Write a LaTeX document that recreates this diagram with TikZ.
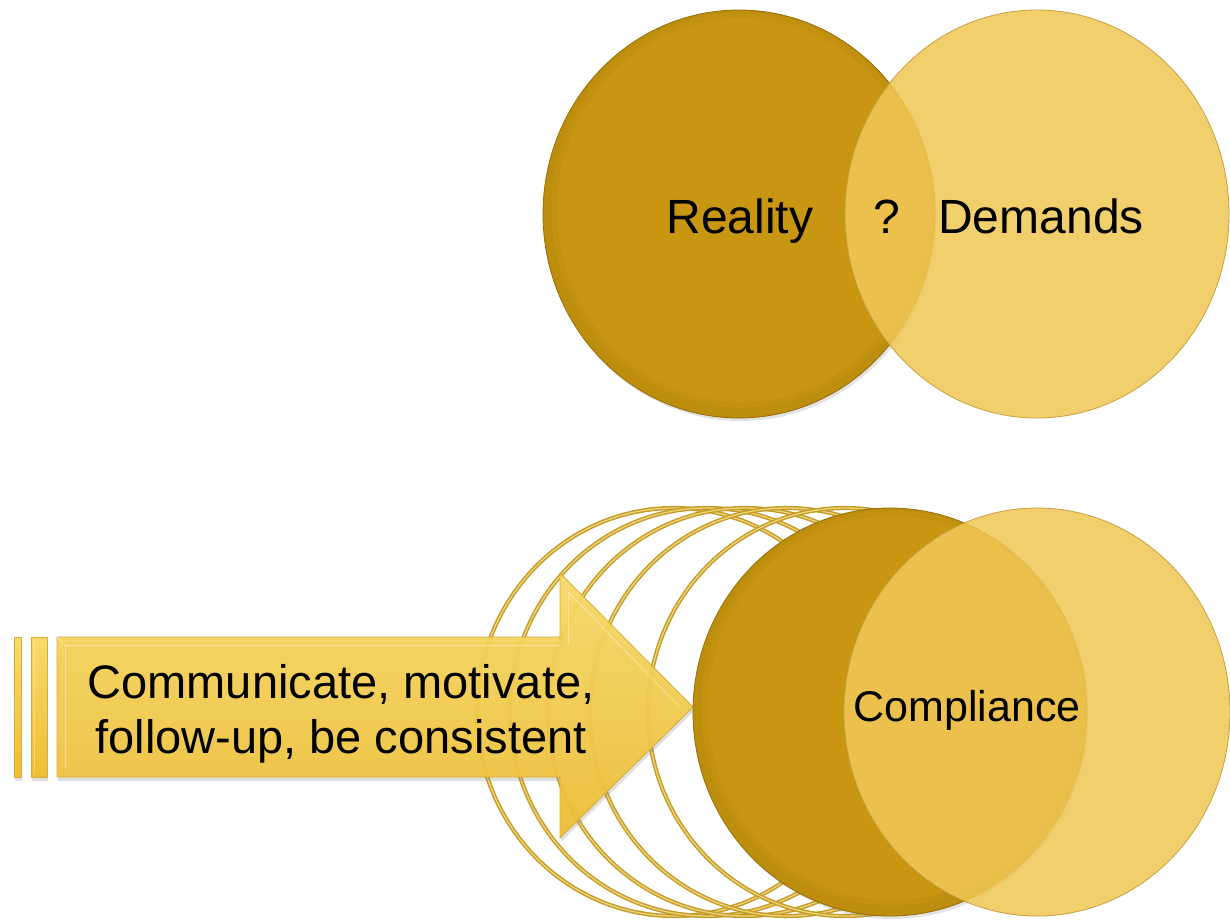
\documentclass[tikz,border=0pt]{standalone}
\usepackage{fontspec}
\setmainfont{Liberation Sans}
\usetikzlibrary{shadows}
\definecolor{darkgold}{RGB}{200,150,16}
\definecolor{darkgoldedge}{RGB}{150,110,8}
\definecolor{lightgold}{RGB}{241,200,86}
\definecolor{lightgoldedge}{RGB}{200,160,60}
\definecolor{ringgold}{RGB}{196,156,40}
\definecolor{ringlight}{RGB}{240,212,120}
\definecolor{arrowtop}{RGB}{249,218,104}
\definecolor{arrowbot}{RGB}{238,190,52}
\definecolor{arrowedge}{RGB}{214,172,60}
\tikzset{
  darkdisc/.style={fill=darkgold, draw=darkgoldedge, line width=0.8pt,
    drop shadow={opacity=0.22, shadow xshift=2pt, shadow yshift=-3pt}},
  lightdisc/.style={fill=lightgold, fill opacity=0.86, draw=lightgoldedge, line width=0.8pt},
  rimshade/.style={draw=darkgoldedge, draw opacity=0.10},
  ringouter/.style={draw=ringgold, line width=4.2pt},
  ringinner/.style={draw=ringlight, line width=1.3pt},
  arrowfill/.style={top color=arrowtop, bottom color=arrowbot, draw=arrowedge, line width=0.8pt,
    drop shadow={opacity=0.25, shadow xshift=1pt, shadow yshift=-4pt}},
  bevel/.style={draw=white, draw opacity=0.35, line width=1pt},
  bigtext/.style={font=\fontsize{48}{56}\selectfont, text=black, inner sep=0pt},
  midtext/.style={font=\fontsize{43}{50}\selectfont, text=black, inner sep=0pt},
  arrowtextstyle/.style={font=\fontsize{47}{55}\selectfont, text=black, align=center, inner sep=0pt}
}
\begin{document}
\begin{tikzpicture}[x=1pt,y=-1pt]
\useasboundingbox (0,0) rectangle (1230,922);
\fill[white] (0,0) rectangle (1230,922);

% ---------- top pair ----------
\path[darkdisc] (739,214) ellipse [x radius=196pt, y radius=204pt];
\begin{scope}
  \clip (739,214) ellipse [x radius=196pt, y radius=204pt];
  \draw[rimshade, line width=24pt] (741,210) ellipse [x radius=196pt, y radius=204pt];
  \draw[rimshade, line width=12pt] (741,210) ellipse [x radius=196pt, y radius=204pt];
\end{scope}
\path[lightdisc] (1037,214) ellipse [x radius=192pt, y radius=204pt];
\node[bigtext, anchor=base] (reality) at (740,233) {Reality};
\node[bigtext, anchor=base] (qmark) at (887,233) {?};
\node[bigtext, anchor=base] (demands) at (1041,233) {Demands};

% ---------- ghost rings ----------
\foreach \lx in {477,510,548,590,648}{
  \draw[ringouter] (\lx+197,712) ellipse [x radius=197pt, y radius=204pt];
  \draw[ringinner] (\lx+197,712) ellipse [x radius=197pt, y radius=204pt];
}

% ---------- arrow ----------
\path[arrowfill] (14,637) rectangle (21,777);
\path[arrowfill] (31,637) rectangle (47,777);
\path[arrowfill, fill opacity=0.93]
  (57,637) -- (560,637) -- (560,573) -- (693,707) -- (560,838) -- (560,777) -- (57,777) -- cycle;
\draw[bevel] (65,645) -- (560,645);
\draw[bevel] (65,645) -- (65,769);
\draw[bevel] (57,637) -- (65,645);
\draw[bevel] (568,592) -- (568,645);
\draw[bevel] (568,592) -- (680,707);
\draw[bevel] (34,640) -- (34,774);
\node[arrowtextstyle] (arrowtext) at (341,714) {Communicate, motivate,\\follow-up, be consistent};

% ---------- bottom pair ----------
\path[darkdisc] (890,712) ellipse [x radius=197pt, y radius=204pt];
\begin{scope}
  \clip (890,712) ellipse [x radius=197pt, y radius=204pt];
  \draw[rimshade, line width=24pt] (892,708) ellipse [x radius=197pt, y radius=204pt];
  \draw[rimshade, line width=12pt] (892,708) ellipse [x radius=197pt, y radius=204pt];
\end{scope}
\path[lightdisc] (1037,712) ellipse [x radius=193pt, y radius=204pt];
\node[midtext] (compliance) at (967,710) {Compliance};
\end{tikzpicture}
\end{document}
